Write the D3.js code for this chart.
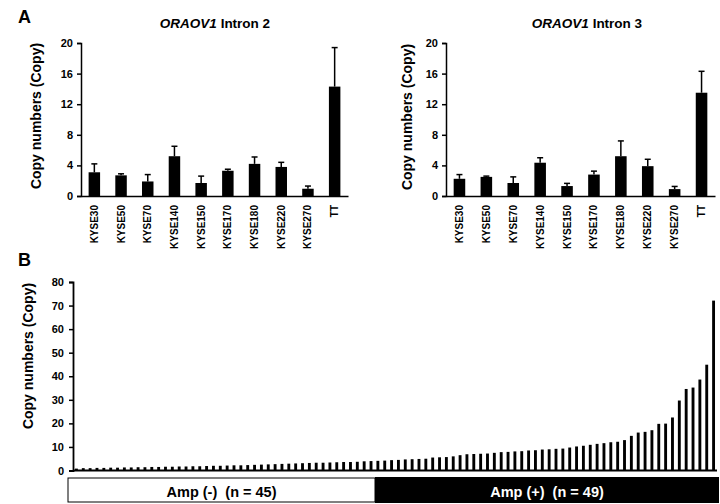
<!DOCTYPE html>
<html><head><meta charset="utf-8">
<script src="https://cdn.jsdelivr.net/npm/d3@7"></script>
<style>
body{margin:0;background:#fff}
svg text{font-family:"Liberation Sans",Arial,sans-serif;font-weight:bold;fill:#000}
</style></head>
<body><svg id="c" width="720" height="504"></svg>
<script>
// ---- data ----
const cellLines = ["KYSE30","KYSE50","KYSE70","KYSE140","KYSE150","KYSE170","KYSE180","KYSE220","KYSE270","TT"];
const intron2Mean = [3.1, 2.7, 1.9, 5.2, 1.7, 3.3, 4.2, 3.8, 0.95, 14.3];
const intron2Err  = [1.1, 0.2, 0.9, 1.3, 0.9, 0.2, 0.9, 0.6, 0.35, 5.1];
const intron3Mean = [2.25, 2.5, 1.7, 4.35, 1.3, 2.8, 5.2, 3.9, 0.9, 13.5];
const intron3Err  = [0.55, 0.1, 0.8, 0.65, 0.35, 0.45, 2.0, 0.9, 0.35, 2.8];
const panelATicks = [0, 4, 8, 12, 16, 20];
const panelBTicks = [0, 10, 20, 30, 40, 50, 60, 70, 80];
const sampleCopies = [
  0.8, 1.0, 1.0, 1.1, 1.1, 1.2, 1.2, 1.3, 1.3, 1.4,
  1.4, 1.5, 1.5, 1.6, 1.6, 1.7, 1.7, 1.8, 1.8, 1.9,
  2.0, 2.0, 2.1, 2.2, 2.2, 2.3, 2.4, 2.5, 2.6, 2.7,
  2.8, 2.9, 3.0, 3.1, 3.2, 3.3, 3.3, 3.4, 3.5, 3.6,
  3.6, 3.7, 3.9, 4.0, 4.1, 4.2, 4.4, 4.5, 4.7, 4.8,
  4.9, 5.0, 5.5, 5.6, 5.7, 6.0, 6.5, 6.9, 7.0, 7.1,
  7.2, 7.5, 7.8, 7.9, 8.1, 8.2, 8.5, 8.6, 8.9, 9.0,
  9.2, 9.3, 9.75, 10.2, 10.5, 10.9, 11.3, 11.6, 12.0, 12.2,
  12.9, 14.7, 16.1, 16.4, 17.1, 19.8, 19.9, 22.5, 29.7, 34.6,
  35.2, 38.6, 44.9, 72.1
];
const groupLabels = ["Amp (-)  (n = 45)", "Amp (+)  (n = 49)"];
const groupSizes = [45, 49];

const svg = d3.select("#c");

function panelA(x0, x1, yTop, yBot, title, titleX, ytX, ytY, means, errs) {
  const g = svg.append("g");
  const x = d3.scaleBand().domain(cellLines).range([x0, x1]).paddingInner(0.57).paddingOuter(0.285);
  const y = d3.scaleLinear().domain([0, 20]).range([yBot, yTop]);
  g.selectAll("rect.bar").data(cellLines).join("rect")
    .attr("x", d => x(d)).attr("width", x.bandwidth())
    .attr("y", (d, i) => y(means[i])).attr("height", (d, i) => yBot - y(means[i]))
    .attr("fill", "#000");
  g.selectAll("line.err").data(cellLines).join("line")
    .attr("x1", d => x(d) + x.bandwidth() / 2).attr("x2", d => x(d) + x.bandwidth() / 2)
    .attr("y1", (d, i) => y(means[i])).attr("y2", (d, i) => y(means[i] + errs[i]))
    .attr("stroke", "#000").attr("stroke-width", 1.5);
  g.selectAll("line.cap").data(cellLines).join("line")
    .attr("x1", d => x(d) + x.bandwidth() / 2 - 3).attr("x2", d => x(d) + x.bandwidth() / 2 + 3)
    .attr("y1", (d, i) => y(means[i] + errs[i])).attr("y2", (d, i) => y(means[i] + errs[i]))
    .attr("stroke", "#000").attr("stroke-width", 1.5);
  const ya = g.append("g").attr("transform", `translate(${x0},0)`)
    .call(d3.axisLeft(y).tickValues(panelATicks).tickSize(4).tickPadding(4));
  ya.select(".domain").attr("stroke-width", 1.5);
  ya.selectAll(".tick line").attr("stroke-width", 1.5);
  ya.selectAll("text").style("font-size", "11px");
  const xa = g.append("g").attr("transform", `translate(0,${yBot})`)
    .call(d3.axisBottom(x).tickSize(0).tickPadding(0));
  xa.select(".domain").attr("stroke-width", 1.5);
  xa.selectAll("text").style("font-size", "10px")
    .attr("transform", "rotate(-90)").attr("text-anchor", "end")
    .attr("x", -9).attr("y", 0).attr("dy", "0.35em");
  const t = g.append("text").attr("x", titleX).attr("y", 28).attr("text-anchor", "middle").style("font-size", "13.5px");
  t.append("tspan").style("font-style", "italic").text("ORAOV1");
  t.append("tspan").text(" " + title);
  g.append("text").attr("transform", `translate(${ytX},${ytY}) rotate(-90)`)
    .attr("text-anchor", "middle").style("font-size", "14px").text("Copy numbers (Copy)");
}

panelA(81, 348, 43, 196, "Intron 2", 215, 41, 116, intron2Mean, intron2Err);
panelA(446, 715, 43, 196, "Intron 3", 587, 412, 117, intron3Mean, intron3Err);

svg.append("text").attr("x", 18).attr("y", 23).style("font-size", "18px").text("A");
svg.append("text").attr("x", 18).attr("y", 266).style("font-size", "18px").text("B");

// ---- panel B ----
{
  const x0 = 73, x1 = 717, yTop = 282, yBot = 470.5;
  const idx = sampleCopies.map((d, i) => i);
  const x = d3.scaleBand().domain(idx).range([x0, x1]).paddingInner(0.58).paddingOuter(0.29);
  const y = d3.scaleLinear().domain([0, 80]).range([yBot, yTop]);
  svg.append("g").selectAll("rect").data(sampleCopies).join("rect")
    .attr("x", (d, i) => x(i)).attr("width", x.bandwidth())
    .attr("y", d => y(d)).attr("height", d => yBot - y(d)).attr("fill", "#000");
  const ya = svg.append("g").attr("transform", `translate(${x0},0)`)
    .call(d3.axisLeft(y).tickValues(panelBTicks).tickSize(4).tickPadding(5));
  ya.select(".domain").attr("stroke-width", 1.8);
  ya.selectAll(".tick line").attr("stroke-width", 1.5);
  ya.selectAll("text").style("font-size", "11px");
  svg.append("line").attr("x1", x0).attr("x2", x1).attr("y1", yBot).attr("y2", yBot)
    .attr("stroke", "#000").attr("stroke-width", 1.8);
  svg.append("text").attr("transform", `translate(33,356) rotate(-90)`)
    .attr("text-anchor", "middle").style("font-size", "14px").text("Copy numbers (Copy)");

  const boxL = 68, boxR = 719, split = 375;
  svg.append("rect").attr("x", boxL).attr("y", 478).attr("width", split - boxL).attr("height", 24)
    .attr("fill", "#fff").attr("stroke", "#000").attr("stroke-width", 1);
  svg.append("rect").attr("x", split).attr("y", 477).attr("width", boxR - split).attr("height", 26)
    .attr("fill", "#000");
  svg.append("text").attr("x", (boxL + split) / 2).attr("y", 497).attr("text-anchor", "middle")
    .style("font-size", "14.5px").style("white-space", "pre").text(groupLabels[0]);
  svg.append("text").attr("x", (split + boxR) / 2).attr("y", 497).attr("text-anchor", "middle")
    .style("font-size", "14.5px").style("white-space", "pre").style("fill", "#fff").text(groupLabels[1]);
}
</script></body></html>
